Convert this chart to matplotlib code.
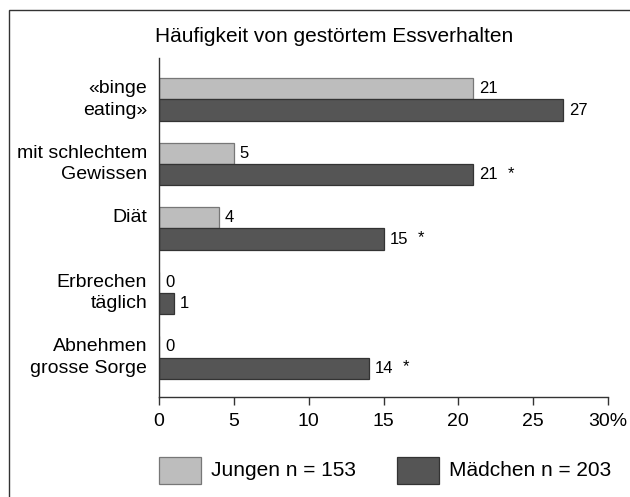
import matplotlib
matplotlib.use("Agg")
import matplotlib.pyplot as plt
from matplotlib.patches import Rectangle

categories = ["«binge\neating»", "mit schlechtem\nGewissen", "Diät", "Erbrechen\ntäglich", "Abnehmen\ngrosse Sorge"]
jungen = [21, 5, 4, 0, 0]
maedchen = [27, 21, 15, 1, 14]
significant = [False, True, True, False, True]
xticks = [0, 5, 10, 15, 20, 25, 30]
xticklabels = ["0", "5", "10", "15", "20", "25", "30%"]
title = "Häufigkeit von gestörtem Essverhalten"
legend_labels = ["Jungen n = 153", "Mädchen n = 203"]

plt.rcParams['font.family'] = ['Liberation Sans', 'DejaVu Sans']

W, H = 630, 497
fig = plt.figure(figsize=(W / 100, H / 100), dpi=100)
ax = fig.add_axes([159 / W, 1 - 397 / H, 449 / W, 339 / H])

light = '#bdbdbd'
dark = '#555555'
light_edge = '#777777'
dark_edge = '#333333'
bh = 0.333
ys = list(range(len(categories)))
for i, y in enumerate(ys):
    ax.barh(y - bh / 2, jungen[i], height=bh, color=light, edgecolor=light_edge, linewidth=0.9)
    ax.barh(y + bh / 2, maedchen[i], height=bh, color=dark, edgecolor=dark_edge, linewidth=0.9)
    ax.annotate(str(jungen[i]), (jungen[i], y - bh / 2), xytext=(4.3, 0), textcoords='offset points',
                va='center', ha='left', fontsize=12)
    ax.annotate(str(maedchen[i]), (maedchen[i], y + bh / 2), xytext=(4.3, 0), textcoords='offset points',
                va='center', ha='left', fontsize=12)
    if significant[i]:
        ax.annotate("*", (maedchen[i], y + bh / 2), xytext=(24.5, 1), textcoords='offset points',
                    va='center', ha='left', fontsize=12)
    lines = categories[i].split("\n")
    for k, line in enumerate(lines):
        ax.text(-0.8, y - bh / 2 + k * bh, line, ha='right', va='center', fontsize=14)

ax.set_xlim(0, 30)
ax.set_ylim(4.612, -0.643)
ax.set_yticks([])
ax.set_xticks(xticks)
ax.set_xticklabels(xticklabels, fontsize=14)
ax.tick_params(axis='x', direction='out', length=5.8, width=1.0, color='#333333', pad=6)
for s in ['top', 'right']:
    ax.spines[s].set_visible(False)
for s in ['left', 'bottom']:
    ax.spines[s].set_linewidth(1.0)
    ax.spines[s].set_color('#333333')

fig.text(155 / W, 1 - 37 / H, title, fontsize=15, ha='left', va='center')

# frame
fig.patches.append(Rectangle((9 / W, -0.05), 1.1, 1 - 10 / H + 0.05, transform=fig.transFigure,
                             fill=False, edgecolor='#333333', linewidth=1.0))

# legend
leg = [(159, light, light_edge, legend_labels[0]), (397, dark, dark_edge, legend_labels[1])]
for x0, fc, ec, lab in leg:
    fig.patches.append(Rectangle((x0 / W, 1 - 484 / H), 42 / W, 27 / H, transform=fig.transFigure,
                                 facecolor=fc, edgecolor=ec, linewidth=0.9))
    fig.text((x0 + 52) / W, 1 - 471 / H, lab, fontsize=15, ha='left', va='center')

fig.savefig("out.png", dpi=100)
